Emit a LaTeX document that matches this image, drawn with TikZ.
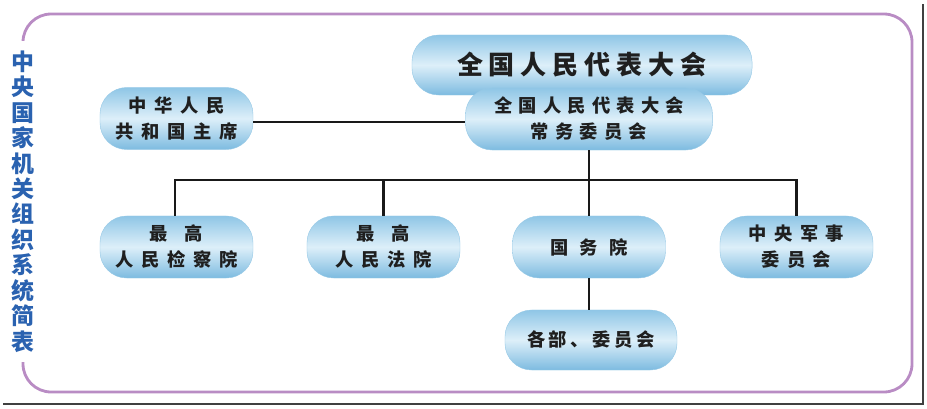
\documentclass[tikz,border=0pt]{standalone}
\usepackage{fontspec}
\newfontfamily\cjk{Noto Sans CJK SC}
\definecolor{frameline}{HTML}{B98CC4}
\definecolor{titleblue}{HTML}{2A62B0}
\definecolor{pilltop}{HTML}{8FC6E6}
\definecolor{pillmid}{HTML}{DDEFF9}
\definecolor{pillbot}{HTML}{7DBBE0}

\begin{document}
\begin{tikzpicture}[x=0.025cm, y=-0.025cm, every node/.style={font=\cjk\bfseries, text=black!88}]
  \tikzset{
    organ/.style={rectangle, rounded corners=19pt, inner sep=0pt, align=center,
      top color=pilltop, bottom color=pillbot, middle color=pillmid,
      draw=pillbot!80!white, line width=0.3pt,
      minimum width=3.825cm, minimum height=1.55cm},
    spaced/.style={font=\cjk\bfseries\fontsize{13}{18.5}\selectfont\addfontfeatures{LetterSpace=#1}},
    link/.style={line width=1.7pt, black!90}
  }
  \useasboundingbox (0,0) rectangle (927,408);

  % frame round the chart, with the screenshot's shadow
  \draw[line width=1.1pt, black!75] (3,404) -- (923,404) -- (923,4);
  \draw[frameline, line width=2pt, rounded corners=20pt] (23,14) rectangle (912,392);
  \node (title) at (23,201.5) [fill=white, inner xsep=2pt, inner ysep=7pt, align=center,
    text=titleblue, font=\cjk\bfseries\fontsize{16.3}{18.1}\selectfont]
    {中\\央\\国\\家\\机\\关\\组\\织\\系\\统\\简\\表};

  % organs
  \node (npc) at (582,65) [organ, minimum width=8.5cm, minimum height=1.5cm,
    font=\cjk\bfseries\fontsize{18.5}{20}\selectfont\addfontfeatures{LetterSpace=23}] {全国人民代表大会};
  \node (sc) at (589,119) [organ, minimum width=6.175cm, spaced=34] {全国人民代表大会\\常务委员会};
  \node (pres) at (176.5,118.5) [organ, spaced=42] {中华人民\\共和国主席};
  \node (proc) at (176.5,247) [organ, spaced=42] {最\hspace{0.9em}高\\人民检察院};
  \node (court) at (383.5,247) [organ, spaced=42] {最\hspace{0.9em}高\\人民法院};
  \node (state) at (589,247) [organ, spaced=62] {国务院};
  \node (mil) at (796.5,247) [organ, spaced=40] {中央军事\\委员会};
  \node (mins) at (591,340) [organ, minimum width=4.3cm, minimum height=1.5cm, spaced=20] {各部、委员会};

  \coordinate (bus) at (589,180);

  \draw[link] (pres.east |- 0,122) -- (sc.west |- 0,122);
  \draw[link] (sc.south -| state) -- (state.north);
  \draw[link] (proc.north -| 175,0) -- (175,180) -- (bus -| mil.north) -- (mil.north);
  \draw[link] (court.north) -- (court.north |- bus);
  \draw[link] (state.south) -- (state.south |- mins.north);
\end{tikzpicture}
\end{document}
